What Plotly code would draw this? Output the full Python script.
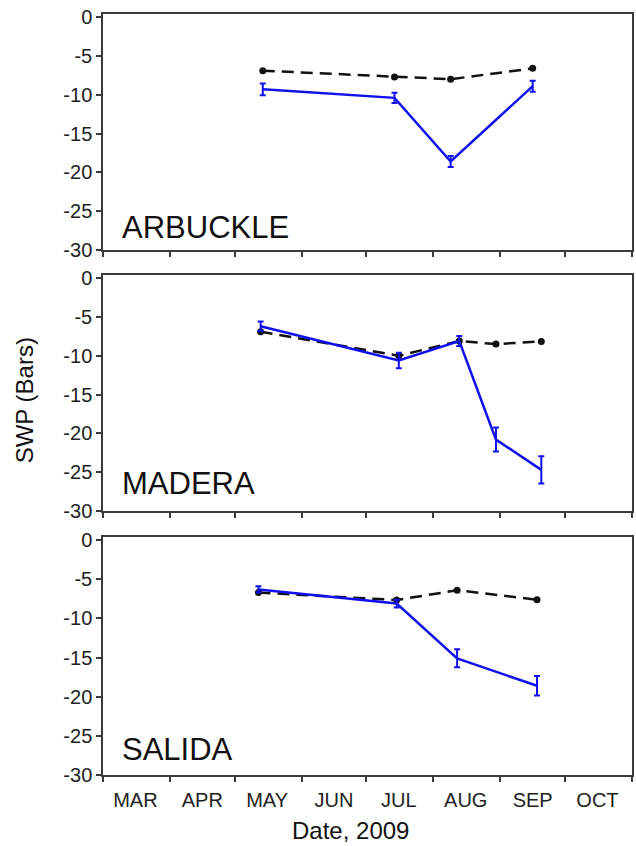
import plotly.graph_objects as go

# ---- data ----
months = ["MAR", "APR", "MAY", "JUN", "JUL", "AUG", "SEP", "OCT"]
month_mid = ["2009-03-16", "2009-04-16", "2009-05-16", "2009-06-16",
             "2009-07-16", "2009-08-16", "2009-09-16", "2009-10-16"]
y_ticks = [0, -5, -10, -15, -20, -25, -30]
y_tick_labels = ["0", "-5", "-10", "-15", "-20", "-25", "-30"]

sites = ["ARBUCKLE", "MADERA", "SALIDA"]

arb_dates = ["2009-05-14", "2009-07-14", "2009-08-09", "2009-09-16"]
arb_control = [-6.9, -7.7, -8.0, -6.6]
arb_stress = [-9.3, -10.4, -18.6, -8.9]
arb_err = [0.75, 0.65, 0.7, 0.7]

mad_dates = ["2009-05-13", "2009-07-16", "2009-08-13", "2009-08-30", "2009-09-20"]
mad_control = [-6.9, -10.0, -8.1, -8.5, -8.15]
mad_stress = [-6.2, -10.6, -8.1, -20.8, -24.7]
mad_err = [0.6, 1.0, 0.65, 1.55, 1.75]

sal_dates = ["2009-05-12", "2009-07-15", "2009-08-12", "2009-09-18"]
sal_control = [-6.7, -7.65, -6.4, -7.6]
sal_stress = [-6.3, -8.1, -15.1, -18.6]
sal_err = [0.4, 0.5, 1.15, 1.25]

# ---- figure ----
W, H = 636, 846
T, B, L, R = 14, 71, 103, 2
PH = H - T - B

def frac(px):
    return (H - B - px) / PH

panels = [
    (arb_dates, arb_control, arb_stress, arb_err, (14, 250), 227),
    (mad_dates, mad_control, mad_stress, mad_err, (275, 511), 483),
    (sal_dates, sal_control, sal_stress, sal_err, (537, 775), 749),
]

BLUE = "#1010ee"
AX = "#3a3a3a"
FONT = "Liberation Sans, Arial, sans-serif"

fig = go.Figure()
layout = dict(
    width=W, height=H,
    margin=dict(l=L, r=R, t=T, b=B),
    paper_bgcolor="white", plot_bgcolor="white",
    showlegend=False,
    font=dict(family=FONT, color="#222222"),
)
annotations = []

for i, (dates, ctrl, strs, err, (top, bot), lab_y) in enumerate(panels, start=1):
    xa = "x" if i == 1 else f"x{i}"
    ya = "y" if i == 1 else f"y{i}"
    fig.add_trace(go.Scatter(
        x=dates, y=ctrl, xaxis=xa, yaxis=ya, mode="lines+markers",
        name="Control", line=dict(color="#111111", width=2.5, dash="12px,7px"),
        marker=dict(color="#111111", size=7),
    ))
    fig.add_trace(go.Scatter(
        x=dates, y=strs, xaxis=xa, yaxis=ya, mode="lines",
        name="Stressed", line=dict(color=BLUE, width=2.5),
        error_y=dict(type="data", array=err, visible=True, color=BLUE,
                     thickness=2, width=3),
    ))
    xkey = "xaxis" if i == 1 else f"xaxis{i}"
    ykey = "yaxis" if i == 1 else f"yaxis{i}"
    layout[xkey] = dict(
        domain=[0, 1], anchor=ya, type="date",
        range=["2009-03-01", "2009-11-01"],
        tickmode="array", tickvals=month_mid, ticktext=months,
        ticks="outside", ticklen=6, tickcolor="rgba(0,0,0,0)",
        showticklabels=(i == 3),
        tickfont=dict(size=20, color="#222222"),
        minor=dict(ticks="outside", ticklen=5, tickcolor=AX, tickwidth=1.5,
                   tick0="2009-03-01", dtick="M1", showgrid=False),
        showgrid=False, zeroline=False,
        showline=True, mirror=True, linecolor=AX, linewidth=1.5,
    )
    layout[ykey] = dict(
        domain=[frac(bot), frac(top)], anchor=xa,
        range=[-30, 0.4], tickmode="array", tickvals=y_ticks,
        ticktext=y_tick_labels,
        ticks="outside", ticklen=5, tickcolor=AX, tickwidth=1.5,
        tickfont=dict(size=20, color="#222222"),
        showgrid=False, zeroline=False,
        showline=True, mirror=True, linecolor=AX, linewidth=1.5,
    )
    annotations.append(dict(
        text=sites[i - 1], xref=f"{xa} domain", yref=f"{ya} domain",
        x=0.032, y=(bot - lab_y) / (bot - top), xanchor="left", yanchor="middle",
        showarrow=False, font=dict(size=31, color="#111111", family=FONT),
    ))

annotations.append(dict(
    text="SWP (Bars)", xref="paper", yref="paper",
    x=(24 - L) / (W - L - R), y=frac(400), xanchor="center", yanchor="middle",
    textangle=-90, showarrow=False, font=dict(size=24, color="#111111", family=FONT),
))
annotations.append(dict(
    text="Date, 2009", xref="paper", yref="paper",
    x=(351 - L) / (W - L - R), y=frac(830), xanchor="center", yanchor="middle",
    showarrow=False, font=dict(size=24, color="#111111", family=FONT),
))
layout["annotations"] = annotations
fig.update_layout(**layout)
fig.write_html("out.html", config={"displayModeBar": False},
               post_script="document.body.style.margin='0px';")
